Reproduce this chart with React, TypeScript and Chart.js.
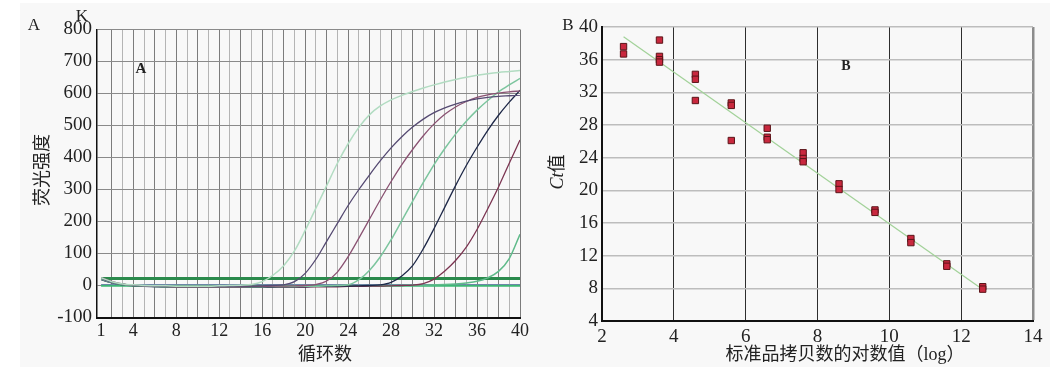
import React, { useEffect, useRef } from "react";
import { Chart, registerables } from "chart.js";
Chart.register(...registerables);

// ---------- Panel A data (amplification curves) ----------
const CYCLES = [1, 2, 3, 4, 5, 6, 7, 8, 9, 10, 11, 12, 13, 14, 15, 16, 17, 18, 19, 20,
  21, 22, 23, 24, 25, 26, 27, 28, 29, 30, 31, 32, 33, 34, 35, 36, 37, 38, 39, 40];
const CYCLE_TICK_LABELS = [1, 4, 8, 12, 16, 20, 24, 28, 32, 36, 40];
const FLUOR_TICKS = [-100, 0, 100, 200, 300, 400, 500, 600, 700, 800];

const curveLightGreen = [24, 12, 5, 2, 0, -1, -1, -2, -2, -2, -2, -1, 0, 1, 3, 12, 32, 62, 108, 172,
  242, 312, 382, 443, 494, 534, 561, 580, 594, 606, 617, 627, 636, 644, 651, 657, 662, 666, 669, 672];
const curveDarkPurple = [22, 10, 4, 1, -1, -2, -3, -3, -3, -3, -3, -3, -3, -2, -2, -1, 0, 2, 12, 38,
  82, 138, 194, 250, 300, 346, 390, 430, 465, 495, 520, 540, 555, 567, 576, 583, 588, 591, 593, 595];
const curvePurpleRed = [25, 13, 5, 1, -1, -2, -3, -4, -4, -4, -4, -4, -4, -4, -3, -3, -2, -2, -1, 0,
  3, 14, 42, 90, 148, 208, 268, 325, 378, 425, 468, 505, 535, 558, 575, 588, 596, 601, 605, 608];
const curveGreen = [20, 9, 3, 0, -2, -3, -4, -4, -4, -4, -4, -4, -4, -4, -4, -4, -3, -3, -3, -2,
  -2, -1, 0, 2, 18, 48, 90, 143, 203, 263, 322, 378, 428, 473, 513, 548, 578, 605, 627, 647];
const curveNavy = [18, 8, 2, -1, -3, -4, -5, -5, -5, -5, -5, -5, -5, -5, -5, -5, -5, -4, -4, -4,
  -3, -3, -2, -2, -1, 0, 2, 10, 30, 62, 115, 178, 245, 312, 375, 432, 485, 532, 573, 610];
const curveMaroon = [22, 10, 4, 0, -2, -3, -4, -5, -5, -5, -5, -5, -5, -5, -5, -5, -5, -5, -5, -5,
  -4, -4, -4, -3, -3, -2, -2, -1, 0, 1, 6, 20, 45, 78, 120, 175, 240, 308, 382, 455];
const curveLateGreen = [20, 9, 3, 0, -1, -2, -2, -2, -2, -2, -2, -2, -2, -2, -2, -2, -2, -2, -2, -2,
  -2, -2, -2, -2, -1, -1, -1, 0, 0, 1, 1, 2, 3, 5, 8, 13, 24, 44, 84, 160];
const ntcBrown = [null, null, null, null, null, null, null, -4, -4, -4, -4, -4, -4, -4, -4, -4,
  null, null, null, null, null, null, null, null, null, null, null, null, null, null, null, null,
  null, null, null, null, null, null, null, null];
const THRESHOLD = 22;
const NTC_GREEN = -1;
const NTC_BLUE = 3;

// ---------- Panel B data (standard curve) ----------
const LOG_COPIES = [2.6, 2.6, 3.6, 3.6, 3.6, 3.6, 4.6, 4.6, 4.6, 5.6, 5.6, 5.6, 6.6, 6.6, 6.6,
  7.6, 7.6, 7.6, 8.6, 8.6, 9.6, 9.6, 10.6, 10.6, 11.6, 11.6, 12.6, 12.6];
const CT_VALUES = [37.6, 36.7, 38.4, 36.4, 36.0, 35.7, 34.2, 33.6, 31.0, 30.7, 30.4, 26.1, 27.6, 26.5, 26.2,
  24.6, 23.9, 23.5, 20.8, 20.1, 17.6, 17.3, 14.1, 13.6, 11.0, 10.7, 8.2, 7.9];
const FIT_X = [2.6, 12.65];
const FIT_Y = [38.8, 7.7];

const serif = "'Liberation Serif', 'DejaVu Serif', 'Noto Sans CJK SC', serif";
const cjk = "'Liberation Serif', 'Noto Sans CJK SC', serif";

function series(values: (number | null)[]) {
  return CYCLES.map((c, i) => ({ x: c, y: values[i] }));
}
function constant(v: number) {
  return CYCLES.map((c) => ({ x: c, y: v }));
}

function curve(label: string, values: (number | null)[], color: string, width = 1.3) {
  return {
    label,
    data: series(values),
    borderColor: color,
    borderWidth: width,
    pointRadius: 0,
    cubicInterpolationMode: "monotone" as const,
    fill: false,
  };
}

export default function App() {
  const refA = useRef<HTMLCanvasElement>(null);
  const refB = useRef<HTMLCanvasElement>(null);

  useEffect(() => {
    const chartA = new Chart(refA.current!, {
      type: "line",
      data: {
        datasets: [
          curve("c1", curveLightGreen, "#b2dcc2", 1.5),
          curve("c2", curveDarkPurple, "#554a72"),
          curve("c3", curvePurpleRed, "#8a5272"),
          curve("c4", curveGreen, "#7cc59e", 1.5),
          curve("c5", curveNavy, "#1e2848"),
          curve("c6", curveMaroon, "#7c3552"),
          curve("c7", curveLateGreen, "#5fba8a", 1.5),
          { label: "ntcBlue", data: constant(NTC_BLUE), borderColor: "#6a86a6", borderWidth: 1, pointRadius: 0 },
          { label: "ntcBrown", data: series(ntcBrown), borderColor: "#6b5a45", borderWidth: 2, pointRadius: 0 },
          { label: "ntcGreen", data: constant(NTC_GREEN), borderColor: "#3cb874", borderWidth: 2, pointRadius: 0 },
          { label: "threshold", data: constant(THRESHOLD), borderColor: "#2a8a4c", borderWidth: 3, pointRadius: 0 },
        ] as any,
      },
      options: {
        responsive: false,
        animation: false,
        devicePixelRatio: 1,
        layout: { padding: { left: 0, right: 20, top: 29.5, bottom: 0 } },
        plugins: { legend: { display: false }, tooltip: { enabled: false } },
        scales: {
          x: {
            type: "linear",
            min: 0.62,
            max: 40,
            afterBuildTicks: (s: any) => {
              s.ticks = CYCLES.map((v) => ({ value: v }));
            },
            afterFit: (s: any) => {
              s.height = 64.5;
            },
            ticks: {
              autoSkip: false,
              maxRotation: 0,
              minRotation: 0,
              padding: 3,
              color: "#222",
              font: { family: serif, size: 18 },
              callback: (v: any) => (CYCLE_TICK_LABELS.includes(Number(v)) ? String(v) : ""),
            },
            grid: {
              drawTicks: false,
              lineWidth: 1,
              color: (ctx: any) => {
                const v = ctx.tick ? ctx.tick.value : 0;
                if (v === 1) return "rgba(0,0,0,0)";
                return v % 2 === 0 ? "#7c7c7c" : "#b4b4b4";
              },
            },
            border: { color: "#111", width: 2 },
          },
          y: {
            min: -100,
            max: 800,
            afterBuildTicks: (s: any) => {
              s.ticks = FLUOR_TICKS.map((v) => ({ value: v }));
            },
            afterFit: (s: any) => {
              s.width = 97;
            },
            ticks: { padding: 5, color: "#222", font: { family: serif, size: 19 } },
            grid: { drawTicks: false, color: "#8a8a8a", lineWidth: 1 },
            border: { color: "#111", width: 1.5 },
          },
        },
      },
    });

    const chartB = new Chart(refB.current!, {
      type: "scatter",
      data: {
        datasets: [
          {
            label: "Ct",
            data: LOG_COPIES.map((x, i) => ({ x, y: CT_VALUES[i] })),
            pointStyle: "rect",
            pointRadius: 4.5,
            backgroundColor: "#c9283e",
            borderColor: "#5a1418",
            borderWidth: 1,
            showLine: false,
          },
          {
            label: "fit",
            data: FIT_X.map((x, i) => ({ x, y: FIT_Y[i] })),
            showLine: true,
            borderColor: "#a3d29a",
            borderWidth: 1.3,
            pointRadius: 0,
          },
        ] as any,
      },
      options: {
        responsive: false,
        animation: false,
        devicePixelRatio: 1,
        layout: { padding: { left: 0, right: 28, top: 27, bottom: 0 } },
        plugins: { legend: { display: false }, tooltip: { enabled: false } },
        scales: {
          x: {
            type: "linear",
            min: 2,
            max: 14,
            ticks: { stepSize: 2, padding: 5, maxRotation: 0, color: "#222", font: { family: serif, size: 19 } },
            afterFit: (s: any) => {
              s.height = 61;
            },
            grid: {
              drawTicks: false,
              color: (ctx: any) => (ctx.tick && ctx.tick.value === 14 ? "#8c8c8c" : "#2e2e2e"),
              lineWidth: (ctx: any) => (ctx.tick && ctx.tick.value === 14 ? 2.5 : 1),
            },
            border: { color: "#111", width: 2 },
          },
          y: {
            min: 4,
            max: 40,
            ticks: { stepSize: 4, padding: 4, color: "#222", font: { family: serif, size: 19 } },
            afterFit: (s: any) => {
              s.width = 62;
            },
            grid: { drawTicks: false, color: "#bdbdbd", lineWidth: 1.5 },
            border: { color: "#111", width: 2 },
          },
        },
      },
    });

    return () => {
      chartA.destroy();
      chartB.destroy();
    };
  }, []);

  const abs = (left: number, top: number, extra: React.CSSProperties = {}): React.CSSProperties => ({
    position: "absolute",
    left,
    top,
    transform: "translate(-50%, -50%)",
    whiteSpace: "nowrap",
    color: "#222",
    lineHeight: 1,
    ...extra,
  });

  return (
    <div style={{ position: "absolute", left: 0, top: 0, width: 1061, height: 382, background: "#fff", overflow: "hidden" }}>
      <div style={{ position: "absolute", left: 20, top: 3, width: 1030, height: 364, background: "#f8f8f8" }} />
      <canvas ref={refA} width={540} height={382} style={{ position: "absolute", left: 0, top: 0, width: 540, height: 382 }} />
      <canvas ref={refB} width={521} height={382} style={{ position: "absolute", left: 540, top: 0, width: 521, height: 382 }} />

      {/* Panel A texts */}
      <div style={abs(34, 24, { fontFamily: serif, fontSize: 17 })}>A</div>
      <div style={abs(82, 15, { fontFamily: serif, fontSize: 17 })}>K</div>
      <div style={abs(141, 68, { fontFamily: "'Liberation Sans Narrow', 'Liberation Serif', serif", fontSize: 15, fontWeight: "bold" })}>A</div>
      <div style={abs(42, 170, { fontFamily: cjk, fontSize: 18, transform: "translate(-50%, -50%) rotate(-90deg)" })}>荧光强度</div>
      <div style={abs(325, 354, { fontFamily: cjk, fontSize: 18 })}>循环数</div>

      {/* Panel B texts */}
      <div style={abs(568, 24, { fontFamily: serif, fontSize: 17 })}>B</div>
      <div style={abs(846, 66, { fontFamily: "'Liberation Sans Narrow', 'Liberation Serif', serif", fontSize: 14, fontWeight: "bold" })}>B</div>
      <div style={abs(557, 172, { fontFamily: cjk, fontSize: 18, transform: "translate(-50%, -50%) rotate(-90deg)" })}>
        <span style={{ fontStyle: "italic", fontFamily: serif }}>Ct</span>值
      </div>
      <div style={abs(845, 354, { fontFamily: cjk, fontSize: 18 })}>标准品拷贝数的对数值（log）</div>
    </div>
  );
}
